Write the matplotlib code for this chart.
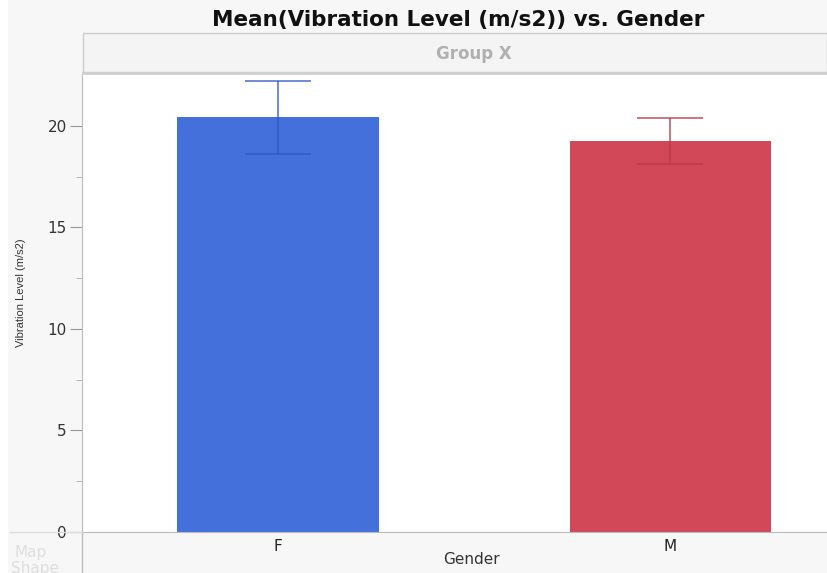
import matplotlib
matplotlib.use("Agg")
import matplotlib.pyplot as plt
from matplotlib.patches import Rectangle
from matplotlib.lines import Line2D

categories = ["F", "M"]
means = [20.44, 19.26]
err_low = [18.62, 18.13]
err_high = [22.22, 20.39]
yticks = [0, 5, 10, 15, 20]

bar_colors = ["#4470dc", "#d24858"]
err_colors = ["#2f58c4", "#b8384a"]

plt.rcParams['font.family'] = ['DejaVu Sans']

fig = plt.figure(figsize=(8.27, 5.73), dpi=100)
fig.patch.set_facecolor("#f7f7f7")

W, H = 827, 573
def fx(px): return px / W
def fy(py): return 1 - py / H

# White strip on far left
fig.patches.append(Rectangle((0, 0), fx(8), 1, transform=fig.transFigure,
                             facecolor="white", edgecolor="none", zorder=0))

ax = fig.add_axes([fx(82), fy(532), 1 - fx(82), fy(74) - fy(532)])
ax.set_facecolor("white")
x = list(range(len(categories)))
ax.bar(x, means, width=0.513, color=bar_colors, zorder=2)
for i in x:
    lo = means[i] - err_low[i]
    hi = err_high[i] - means[i]
    ax.errorbar(i, means[i], yerr=[[lo], [hi]], fmt="none", ecolor=err_colors[i],
                elinewidth=1.3, capsize=24, capthick=1.3, alpha=0.75, zorder=3)
ax.set_xlim(-0.5, 1.4)
ax.set_ylim(0, 22.56)
ax.set_yticks(yticks)
ax.set_yticks([2.5, 7.5, 12.5, 17.5], minor=True)
ax.tick_params(axis="y", which="major", length=9, color="#999999", labelsize=11,
               labelcolor="#333333", pad=2)
ax.tick_params(axis="y", which="minor", length=4, color="#aaaaaa")
ax.set_xticks(x)
ax.set_xticklabels(categories)
ax.tick_params(axis="x", length=0, labelsize=11, pad=5, labelcolor="#222222")
for s in ["top", "right"]:
    ax.spines[s].set_visible(False)
ax.spines["left"].set_color("#bbbbbb")
ax.spines["bottom"].set_color("#bbbbbb")
ax.set_xlabel("Gender", fontsize=11, color="#333333")
ax.xaxis.set_label_coords((471 - 82) / 745, -(552 - 532) / 458)
ax.set_ylabel("Vibration Level (m/s2)", fontsize=8, color="#333333",
              family=['Liberation Sans', 'DejaVu Sans'])
ax.yaxis.set_label_coords((26 - 82) / 745, (532 - 293) / 458)

# Group X band
fig.patches.append(Rectangle((fx(83), fy(72)), 1 - fx(83), fy(33) - fy(72),
                             transform=fig.transFigure, facecolor="#f4f4f4",
                             edgecolor="#cccccc", linewidth=1.0, zorder=1))
fig.lines.append(Line2D([fx(83), 1], [fy(73), fy(73)], transform=fig.transFigure,
                        color="#d0d0d0", linewidth=2))
fig.text(fx(474), fy(54), "Group X", ha="center", va="center", fontsize=12,
         color="#b0b0b0", fontweight="bold")

# left vertical separator down the bottom
fig.lines.append(Line2D([fx(82), fx(82)], [0, fy(532)], transform=fig.transFigure,
                        color="#bbbbbb", linewidth=1))
fig.lines.append(Line2D([fx(10), fx(82)], [fy(532), fy(532)], transform=fig.transFigure,
                        color="#dddddd", linewidth=1))

fig.text(fx(458), fy(20), "Mean(Vibration Level (m/s2)) vs. Gender", ha="center",
         va="center", fontsize=15.5, fontweight="bold", color="#111111")

fig.text(fx(14), fy(552), "Map", fontsize=11, color="#dedede", va="center")
fig.text(fx(11), fy(569), "Shape", fontsize=11, color="#dedede", va="center")

fig.savefig("out.png", dpi=100, facecolor=fig.get_facecolor())
